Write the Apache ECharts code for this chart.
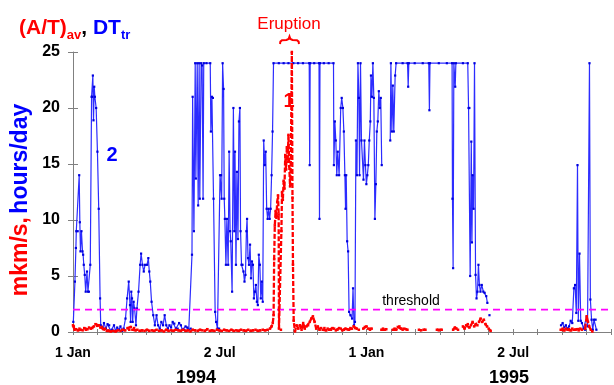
<!DOCTYPE html>
<html>
<head>
<meta charset="utf-8">
<script src="https://cdn.jsdelivr.net/npm/echarts@6/dist/echarts.min.js"></script>
<style>html,body{margin:0;padding:0;background:#fff}#c{width:614px;height:385px}</style>
</head>
<body>
<div id="c"></div>
<script>
// x values are days counted from 1 Jan 1994
const DAYS_PER_MONTH = 365 / 12;
const monthTickLabels = ['1 Jan','','','','','','2 Jul','','','','','','1 Jan','','','','','','2 Jul','','','',''];
const yearLabels = ['1994', '1995'];
const yTicks = [0, 5, 10, 15, 20, 25];
const threshold = 2;

// DT_tr (hours/day), [day, value], null = gap
const blueDTtr = [
[0.4,0.9],[2.4,4.5],[3.6,7.5],[4.1,9.0],[5.8,9.0],[7.7,14.0],[8.5,9.8],[9.3,7.2],[10.5,9.0],[11.8,7.2],
[12.6,6.9],[13.4,6.0],[14.6,5.1],[15.8,3.6],[17.4,5.4],[18.6,3.6],[19.8,3.6],[21.5,6.0],[23.1,21.0],[23.9,21.0],
[24.7,22.9],[25.5,18.9],[26.4,21.9],[27.2,21.0],[28.8,20.0],[30.4,16.1],[32.0,11.0],[33.7,3.0],[34.5,0.6],[36.9,0.4],
[38.5,0.8],[40.9,0.3],[43,0.7],[45,0.6],[47,0.1],[49,0.2],[51,0.6],[53,0.1],[55,0.4],[57.2,0.2],
[59,0.5],[61.2,0.1],[63,0.3],[65.3,1.2],[67.3,3.0],[69.3,4.5],[70.9,2.4],[71.7,0.9],[72.5,3.6],[73.4,3.0],
[74.2,0.9],[75.4,2.7],[76.6,2.1],[78.3,0.6],[79.5,2.1],[81.5,3.6],[83.5,6.0],[84.7,7.0],[86.4,6.0],[88,5.4],
[89.6,6.0],[92.1,6.0],[93.7,6.6],[94.9,5.4],[96.1,4.5],[97.7,2.7],[99.8,1.5],[101.8,0.6],[103.9,1.5],[105.8,0.6],
[107.9,0.3],[109.9,0.9],[112,0.6],[114,1.5],[116,0.6],[118,0.3],[120,0.6],[122,0.4],[124,0.9],[126,0.75],
[128,0.3],[130.2,0.3],[132,0.8],[134.2,0.6],[136,0.2],[138.3,0.2],[140,0.5],[142.3,0.4],[144,0.2],[146.4,0.3],
[148,6.9],[148.8,21],[150.4,9.0],[152,24],[152.8,13.7],[154.5,24],[155.7,11.3],[156.9,24],[157.7,11.9],[159.4,24],
[160.6,23.8],[161.8,11.9],[162.6,24],[166,24],[170.7,24],[171.5,17.9],[172.8,21],[174,20.9],[174.8,11.9],[176.8,1.8],
[178,0.9],[179.7,0.3],[181.7,0.3],[182.9,14],[184.1,14],[184.9,11.9],[186.1,24],[187.3,21.7],[188.1,11.9],[188.9,10.1],
[190.2,6.0],[191.4,10.1],[193,6.0],[194.2,16.1],[195.4,9.0],[196.2,8.1],[197.9,3.6],[199.5,20.0],[200.7,9.0],[201.5,16.1],
[202.7,6.0],[203.9,14.3],[205.2,8.3],[206.4,18.8],[207.6,20.0],[208.4,9.0],[209.6,6.0],[210.8,6.0],[212,5.4],[213.3,4.5],
[214.5,5.1],[215.7,9.0],[216.5,10.1],[217.7,6.6],[218.9,6.0],[220.2,7.8],[221.4,4.8],[222.6,6.3],[223.8,6.0],[225,3.0],
[226.3,3.6],[227.5,4.2],[228.7,2.7],[229.9,2.4],[231.1,6.9],[232.4,6.0],[233.6,3.0],[234.8,4.5],[236,2.7],[237.2,17.1],
[238.5,14.9],[239.7,16.1],[240.9,11.0],[242.1,10.1],[243.3,11.0],[244.6,10.1],[245.8,11.0],[247,14.0],[248.2,17.9],[249.4,24],
[256,24],[262,24],[268,24],[274,24],[280,24],[286,24],[293.8,24],[294.4,14.9],[295,24],[300,24],
[306,24],[306.6,10.1],[307.2,24],[312,24],[318,24],[324,24],[324.5,14.9],[325.7,18.8],[326.9,17.1],[328.1,14.0],
[329.3,16.1],[331,14],[333,20],[334.2,20.9],[335.7,20],[336.9,17.9],[338.2,14],[339,11],[339.8,14],[341,8.1],
[342.2,7.2],[343.4,1.8],[345.1,1.5],[347.1,1.2],[348.3,3.9],[349.5,0.6],[350.7,0.9],[351.9,17.1],[353.2,14],[354.4,24],
[355.6,20.9],[356.4,14],[357.6,24],[358.8,17.1],[361.3,13.6],[362.5,17.1],[363.7,14.9],[364.9,13.2],[366.1,14],[367.3,14.9],
[368.5,17.1],[369.8,18.8],[370.6,22.9],[371.8,21],[373,24],[374.2,20.9],[375.5,10.1],[376.7,13.2],[377.9,17.9],[379.1,18.8],
[380.4,21.5],[381.6,20],[382.8,20.9],[384,14.9],[389,null],[394.6,17.1],[395.4,24],[396.6,17.9],[397.8,22],[399,17.9],
[400.7,22.9],[401.9,24],[410,24],[416.1,24],[416.9,21.9],[417.7,24],[425,24],[435,24],[442.5,24],[443.3,19.8],
[444,24],[455,24],[465,24],[471.5,24],[472,11.9],[472.8,5.7],[473.7,24],[475.4,21.9],[476.2,24],[485,24],
[491,24],[492,20],[493,20],[494,5],[495.4,17],[496.2,8],[497,14],[498.2,11],[499.4,24],[500.7,5.1],
[501.9,3.0],[503.1,3.6],[504.3,6.0],[505.5,4.2],[506.8,3.6],[508.4,4.2],[510.4,3.6],[512,3.5],[514,3.2],[515.4,2.6],
[516.5,null],[518,1.5],[519,null],
[607,0.6],[609,0.8],[611,0.4],[613,0.6],[615,0.3],[617,0.5],[619,1.0],[621,0.8],[623,3.9],[624.5,4.2],
[626,1.7],[627.5,14.9],[628.5,1.0],[630,7.0],[631.5,1.0],[633,0.8],[635,0.3],[637,0.2],[639,1.4],[640,0.5],
[642.4,24],[643.5,2.9],[645,1.1],[646.5,0.2],[648,1.1],[650,1.1],[651,0.2]
];

// (A/T)av (mkm/s), [day, value], null = gap
const redAT = [
[0,0.6],[1,0.5],[2,0.2],[4,0.25],[6,0.15],[8,0.3],[10,0.2],[12,0.15],[14,0.35],[16,0.2],
[18,0.25],[20,0.4],[22,0.3],[24,0.35],[26,0.5],[28,0.7],[30,0.55],[32,0.6],[34,0.4],[36,0.45],
[38,0.25],[40,0.3],[42,0.1],[44,0.15],[47,0.05],[50,0.1],[53,0.05],[56,0.15],[59,0.1],[62,0.2],
[65,0.15],[68,0.35],[70,0.2],[72,0.45],[74,0.2],[76,0.35],[78,0.15],[80,0.2],[83,0.1],[86,0.15],
[89,0.1],[92,0.2],[95,0.1],[98,0.15],[101,0.1],[104,0.2],[107,0.1],[110,0.15],[113,0.05],[116,0.2],
[119,0.1],[122,0.15],[125,0.1],[128,0.2],[131,0.15],[134,0.1],[137,0.2],[140,0.1],[143,0.15],[146,0.05],
[149,0.2],[152,0.15],[155,0.1],[158,0.2],[161,0.15],[164,0.1],[167,0.25],[170,0.1],[173,0.15],[176,0.1],
[179,0.2],[182,0.15],[185,0.1],[188,0.2],[191,0.15],[194,0.1],[197,0.2],[200,0.1],[203,0.15],[206,0.1],
[209,0.2],[212,0.15],[215,0.1],[218,0.2],[221,0.1],[224,0.15],[227,0.2],[230,0.1],[233,0.15],[236,0.2],
[239,0.15],[242,0.2],[245,0.3],[247,0.5],[248.5,0.8],[249.5,1.5],[250.2,6.5],[251,9.5],[252,10.8],[253,10.2],
[254,11.6],[255,12.2],[255.8,10.5],[256.2,0.3],[258.6,0.2],[259.2,9],[260,12.5],[261,11.8],[262,13.5],[263,12.8],
[264,15.8],[265,14.5],[266,16.5],[267,15.2],[268,17.6],[269,14.8],[270,13],[271,15.5],[272.2,25],[273,12],
[273.6,6],[274.5,1],[276.1,0.05],[278.1,0.6],[280.2,0.3],[282.2,0.6],[284.3,0.2],[286.3,0.8],[288.3,0.3],[290.3,0.5],
[292.4,0.6],[294.4,0.9],[296.4,1.2],[298.4,1.4],[300.5,0.9],[302.5,0.3],[304.5,0.5],[306.6,0.2],[308.6,0.35],[310.6,0.2],
[312.7,0.35],[314.7,0.15],[316.7,0.3],[318.7,0.2],[320.8,0.2],[322.8,0.35],[324.8,0.3],[326.9,0.15],[328.9,0.2],[331,0.35],
[333,0.3],[335,0.15],[337,0.2],[339,0.3],[341,0.25],[343,0.2],[345,0.35],[347,0.3],[349,0.5],[351,0.35],
[353,0.3],[355.5,0.2],[358,null],[361,0.3],[363,0.45],[365,0.5],[367,0.3],[369.4,0.2],[371.5,0.3],[377,null],
[383.6,0.2],[385.6,0.3],[387.7,0.2],[389.7,0.25],[393,null],[397.8,0.2],[400,0.3],[402,0.2],[404,0.45],[406,0.5],
[408,0.3],[410,0.2],[412,0.3],[414,0.25],[416,0.2],[423,null],[430.3,0.2],[433,0.15],[434.5,null],[436,0.2],
[438.4,0.2],[445,null],[452.6,0.2],[455,0.15],[458.6,0.2],[465,null],[472.8,0.2],[475,0.4],[477,0.3],[478.9,0.2],
[482,null],[485,0.5],[487,0.3],[489,0.6],[491,0.7],[493,0.4],[495,0.6],[497,0.9],[499,0.5],[501,0.7],
[503,0.6],[505,0.9],[507,1.2],[509,0.9],[511,1.1],[513,0.7],[515,0.5],[517,0.3],[519.5,0.1],[560,null],
[606.6,0.2],[609,0.3],[611,0.15],[613,0.3],[615,0.2],[617,0.25],[619,0.15],[621,0.3],[623,0.2],[625,0.2],
[627,0.25],[629,0.15],[631,0.3],[633,0.2],[635,null],[637,0.3],[639,1.4],[640.5,0.9],[642,0.5],[644,0.2],[646,0.05]
];

const FONT = "'Liberation Sans', Arial, sans-serif";
const toSeries = arr => arr.map(p => [p[0], p[1] === null ? '-' : p[1]]);
const xMax = (monthTickLabels.length - 1) * DAYS_PER_MONTH;

const chart = echarts.init(document.getElementById('c'), null, {renderer: 'canvas'});
const xBase = {
  type: 'value', min: 0, max: xMax, interval: DAYS_PER_MONTH,
  splitLine: {show: false}, position: 'bottom'
};
const yBase = {
  type: 'value', min: yTicks[0], max: yTicks[yTicks.length - 1], interval: yTicks[1] - yTicks[0],
  splitLine: {show: false}, position: 'left'
};
chart.setOption({
  animation: false,
  backgroundColor: '#ffffff',
  grid: {left: 73, top: 52, width: 550, height: 280, containLabel: false},
  xAxis: [
    Object.assign({}, xBase, {
      axisLine: {show: true, lineStyle: {color: '#808080', width: 1}},
      axisTick: {show: true, inside: false, length: 3, lineStyle: {color: '#808080'}},
      axisLabel: {
        show: true, margin: 14, color: '#000', fontSize: 14, fontWeight: 'bold', fontFamily: FONT,
        formatter: v => monthTickLabels[Math.round(v / DAYS_PER_MONTH)] || ''
      }
    }),
    Object.assign({}, xBase, {
      axisLine: {show: false},
      axisTick: {show: true, inside: true, length: 3, lineStyle: {color: '#808080'}},
      axisLabel: {show: false}
    })
  ],
  yAxis: [
    Object.assign({}, yBase, {
      axisLine: {show: true, lineStyle: {color: '#808080', width: 1}},
      axisTick: {show: true, inside: false, length: 5, lineStyle: {color: '#808080'}},
      axisLabel: {show: true, margin: 13, color: '#000', fontSize: 16, fontWeight: 'bold', fontFamily: FONT}
    }),
    Object.assign({}, yBase, {
      axisLine: {show: false},
      axisTick: {show: true, inside: true, length: 5, lineStyle: {color: '#808080'}},
      axisLabel: {show: false}
    })
  ],
  series: [
    {
      name: 'DTtr', type: 'line', xAxisIndex: 0, yAxisIndex: 0,
      data: toSeries(blueDTtr), connectNulls: false,
      symbol: 'rect', symbolSize: 2.2, showSymbol: true,
      itemStyle: {color: '#0000dd'},
      lineStyle: {color: '#2c2cff', width: 1.2},
      z: 2
    },
    {
      name: 'threshold', type: 'line', xAxisIndex: 0, yAxisIndex: 0,
      data: [[0, threshold], [xMax, threshold]],
      symbol: 'none',
      lineStyle: {color: '#ff00ff', width: 1.8, type: [7, 5]},
      z: 3
    },
    {
      name: '(A/T)av', type: 'line', xAxisIndex: 0, yAxisIndex: 0,
      data: toSeries(redAT), connectNulls: false,
      symbol: 'rect', symbolSize: 2.5, showSymbol: true,
      itemStyle: {color: '#ff0000'},
      lineStyle: {color: '#ff0000', width: 2.3, type: [5, 2]},
      z: 4
    }
  ],
  graphic: [
    {
      type: 'text', x: 19, y: 16, z: 10,
      style: {
        text: '{ra|(A/T)}{rs|av}{k|, }{ba|DT}{bs|tr}',
        rich: {
          ra: {fill: '#ff0000', fontSize: 21, fontWeight: 'bold', fontFamily: FONT, lineHeight: 24},
          rs: {fill: '#ff0000', fontSize: 13, fontWeight: 'bold', fontFamily: FONT, lineHeight: 14, padding: [15, 0, 0, 0]},
          k: {fill: '#000000', fontSize: 21, fontWeight: 'bold', fontFamily: FONT, lineHeight: 24},
          ba: {fill: '#0000ff', fontSize: 21, fontWeight: 'bold', fontFamily: FONT, lineHeight: 24},
          bs: {fill: '#0000ff', fontSize: 13, fontWeight: 'bold', fontFamily: FONT, lineHeight: 14, padding: [15, 0, 0, 0]}
        }
      }
    },
    {
      type: 'text', x: 21, y: 200, rotation: Math.PI / 2, z: 10,
      style: {
        text: '{r|mkm/s,} {b|hours/day}', align: 'center', verticalAlign: 'middle',
        rich: {
          r: {fill: '#ff0000', fontSize: 23, fontWeight: 'bold', fontFamily: FONT},
          b: {fill: '#0000ff', fontSize: 23, fontWeight: 'bold', fontFamily: FONT}
        }
      }
    },
    {
      type: 'text', x: 289, y: 24, z: 10,
      style: {text: 'Eruption', fill: '#ff0000', fontSize: 17, fontFamily: FONT, align: 'center', verticalAlign: 'middle'}
    },
    {
      type: 'polyline', z: 10,
      shape: {points: [[280,44],[280.4,41.6],[282,40.3],[286.5,40],[288.6,39],[289.5,36.5],[290.4,39],[292.5,40],[297,40.3],[298.6,41.6],[299,44]]},
      style: {stroke: '#ff0000', lineWidth: 2, fill: null}
    },
    {
      type: 'text', x: 289, y: 101, z: 10,
      style: {text: '1', fill: '#ff0000', fontSize: 20, fontWeight: 'bold', fontFamily: FONT, align: 'center', verticalAlign: 'middle'}
    },
    {
      type: 'text', x: 112, y: 155.5, z: 10,
      style: {text: '2', fill: '#0000ff', fontSize: 20, fontWeight: 'bold', fontFamily: FONT, align: 'center', verticalAlign: 'middle'}
    },
    {
      type: 'text', x: 411, y: 301, z: 10,
      style: {text: 'threshold', fill: '#000000', fontSize: 14, fontFamily: FONT, align: 'center', verticalAlign: 'middle'}
    },
    {
      type: 'text', x: 196, y: 378, z: 10,
      style: {text: yearLabels[0], fill: '#000000', fontSize: 18, fontWeight: 'bold', fontFamily: FONT, align: 'center', verticalAlign: 'middle'}
    },
    {
      type: 'text', x: 509, y: 378, z: 10,
      style: {text: yearLabels[1], fill: '#000000', fontSize: 18, fontWeight: 'bold', fontFamily: FONT, align: 'center', verticalAlign: 'middle'}
    }
  ]
});
</script>
</body>
</html>
